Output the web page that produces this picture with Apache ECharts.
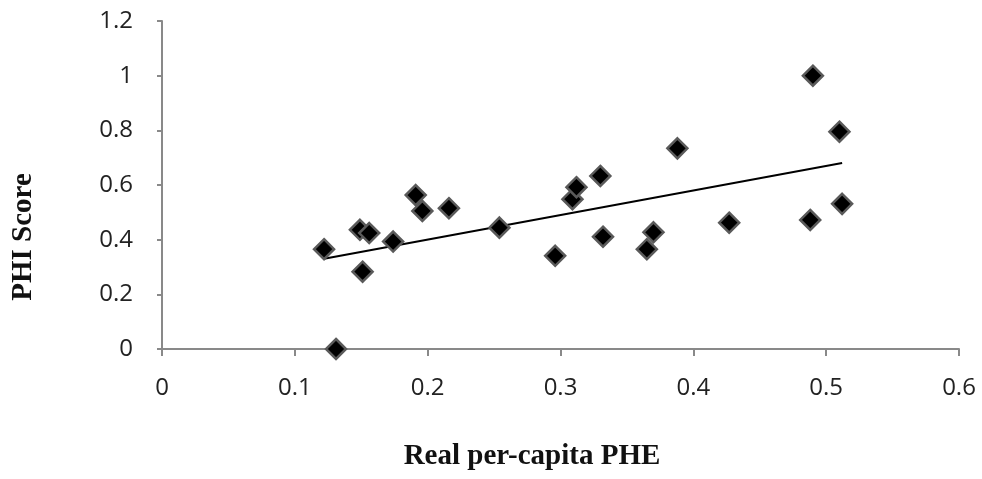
<!DOCTYPE html>
<html><head><meta charset="utf-8">
<script src="https://cdn.jsdelivr.net/npm/echarts@6/dist/echarts.min.js"></script>
<style>html,body{margin:0;padding:0;background:#fff}#c{width:982px;height:479px}</style>
</head><body><div id="c"></div>
<script>
const phe = [0.122,0.149,0.156,0.151,0.174,0.191,0.196,0.216,0.131,0.254,0.296,0.309,0.312,0.330,0.332,0.365,0.370,0.388,0.427,0.488,0.490,0.510,0.512];
const phi = [0.365,0.436,0.424,0.283,0.393,0.563,0.505,0.515,0.0,0.444,0.341,0.548,0.592,0.633,0.411,0.365,0.427,0.734,0.462,0.472,1.0,0.795,0.531];
const xTicks = [0,0.1,0.2,0.3,0.4,0.5,0.6];
const yTicks = [0,0.2,0.4,0.6,0.8,1,1.2];

// least-squares linear trendline
const n = phe.length;
let sx=0,sy=0,sxx=0,sxy=0;
for(let i=0;i<n;i++){sx+=phe[i];sy+=phi[i];sxx+=phe[i]*phe[i];sxy+=phe[i]*phi[i];}
const slope=(n*sxy-sx*sy)/(n*sxx-sx*sx), icpt=(sy-slope*sx)/n;
const xmin=Math.min(...phe), xmax=Math.max(...phe);
const trend=[[xmin,icpt+slope*xmin],[xmax,icpt+slope*xmax]];

const chart = echarts.init(document.getElementById('c'));
const axisCol='#898989';
chart.setOption({
  animation:false,
  grid:{left:162,right:23,top:21,bottom:130,outerBoundsMode:'none',containLabel:false},
  xAxis:{type:'value',min:0,max:0.6,interval:0.1,
    name:'Real per-capita PHE',nameLocation:'middle',nameGap:93,
    nameTextStyle:{fontFamily:'Liberation Serif',fontWeight:'bold',fontSize:29,color:'#111',padding:[0,57,0,0]},
    axisLine:{lineStyle:{color:axisCol,width:2}},
    axisTick:{show:true,length:7,lineStyle:{color:axisCol,width:2}},
    splitLine:{show:false},
    axisLabel:{fontFamily:'Open Sans',fontSize:24,color:'#222',margin:27,formatter:v=>String(Math.round(v*10)/10)}},
  yAxis:{type:'value',min:0,max:1.2,interval:0.2,
    name:'PHI Score',nameLocation:'middle',nameGap:124,nameRotate:90,
    nameTextStyle:{fontFamily:'Liberation Serif',fontWeight:'bold',fontSize:29,color:'#111',padding:[0,104,0,0]},
    axisLine:{show:true,lineStyle:{color:axisCol,width:2}},
    axisTick:{show:true,length:5,lineStyle:{color:axisCol,width:2}},
    splitLine:{show:false},
    axisLabel:{fontFamily:'Open Sans',fontSize:24,color:'#222',margin:29,formatter:v=>String(Math.round(v*10)/10)}},
  series:[
    {type:'line',data:trend,symbol:'none',lineStyle:{color:'#000',width:2},z:3},
    {type:'scatter',data:phe.map((x,i)=>[x,phi[i]]),symbol:'diamond',symbolSize:20,
     itemStyle:{color:'#000',borderColor:'#5a5a5a',borderWidth:2.5,opacity:1},z:4}
  ]
});
</script></body></html>
